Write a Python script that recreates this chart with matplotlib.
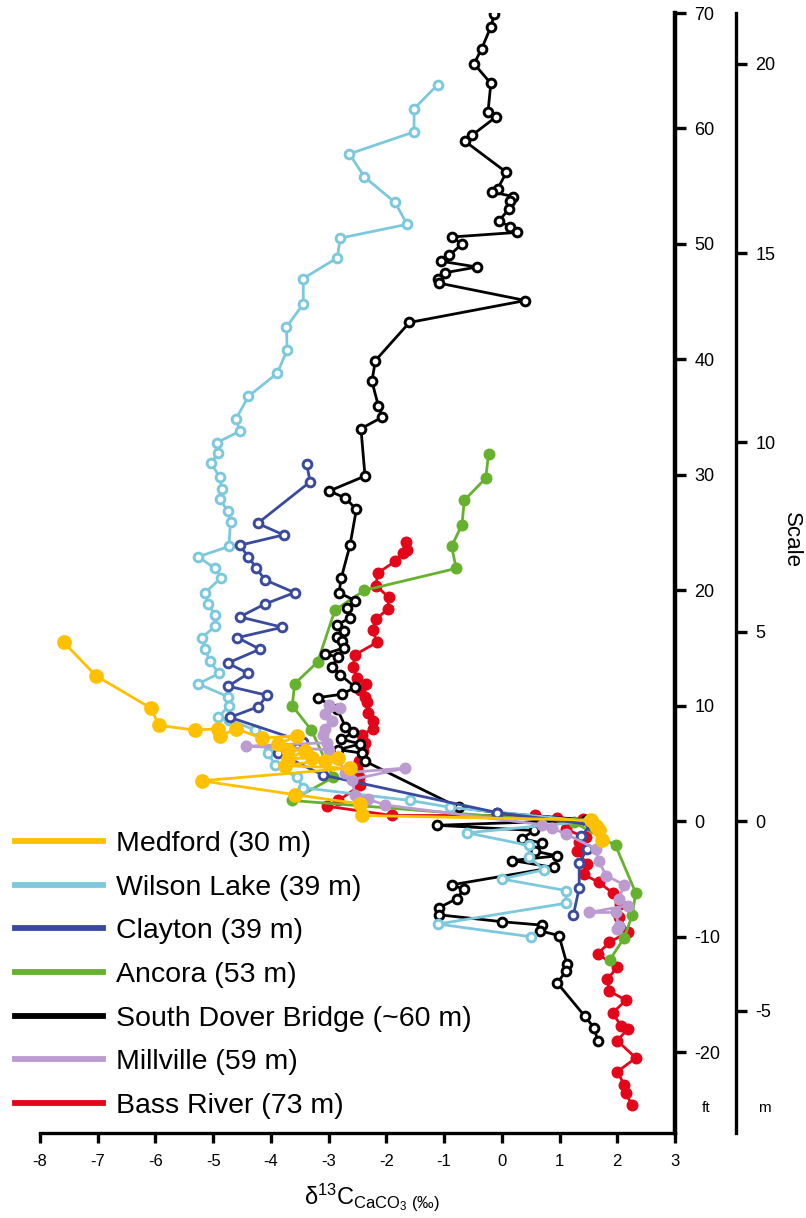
import matplotlib
matplotlib.use('Agg')
import matplotlib.pyplot as plt
from matplotlib.lines import Line2D

plt.rcParams['font.family'] = ['Liberation Sans', 'DejaVu Sans']
plt.rcParams['mathtext.fontset'] = 'custom'
plt.rcParams['mathtext.rm'] = 'Liberation Sans'
plt.rcParams['mathtext.it'] = 'Liberation Sans'
plt.rcParams['mathtext.bf'] = 'Liberation Sans:bold'

# ---------------- data (delta13C in permil, depth relative in ft) ----------------
medford_x = [-7.59, -7.03, -6.08, -5.94, -5.32, -4.91, -4.88, -4.60, -4.16, -3.55, -3.87, -3.70, -3.41,
             -3.70, -3.29, -3.06, -2.83, -3.76, -2.63, -5.20, -3.58, -2.45, -2.43, 1.55, 1.63, 1.68, 1.74]
medford_ft = [15.5, 12.6, 9.8, 8.3, 7.9, 8.0, 7.4, 8.0, 7.2, 7.4, 6.7, 6.2, 6.1,
              5.4, 5.5, 5.2, 5.5, 4.8, 4.6, 3.5, 2.3, 1.5, 0.5, 0.1, -0.4, -0.8, -1.6]

wilson_x = [-1.11, -1.52, -1.52, -2.64, -2.38, -1.85, -1.64, -2.80, -2.85, -3.44, -3.44, -3.73, -3.72,
            -3.89, -4.39, -4.61, -4.53, -4.93, -4.92, -5.03, -4.89, -4.85, -4.89, -4.75, -4.70, -4.73,
            -5.26, -4.97, -4.86, -5.14, -5.09, -4.97, -4.96, -5.20, -5.14, -5.06, -4.90, -5.26, -4.75,
            -4.73, -4.91, -4.73, -4.27, -4.05, -3.93, -3.55, -3.44, -1.59, -0.89, 1.50, -0.60, 0.47,
            0.47, 0.73, 0.00, 1.11, 1.11, -1.11, 0.50]
wilson_ft = [63.8, 61.7, 59.7, 57.8, 55.8, 53.6, 51.7, 50.5, 48.8, 47.0, 44.8, 42.8, 40.8,
             38.8, 36.8, 34.8, 33.8, 32.8, 31.9, 31.0, 29.8, 28.8, 27.9, 26.9, 25.9, 23.8,
             22.9, 21.9, 21.1, 19.8, 18.8, 17.9, 16.9, 15.9, 14.9, 13.9, 12.8, 11.9, 10.8,
             10.0, 9.0, 8.8, 7.9, 5.9, 4.9, 3.8, 2.9, 1.8, 1.2, 0.0, -1.0, -2.1,
             -3.1, -4.2, -5.0, -6.0, -7.1, -8.9, -10.0]

clayton_x = [-3.38, -3.32, -4.23, -3.78, -4.54, -4.39, -4.25, -4.10, -3.59, -4.11, -4.54, -3.80, -4.58,
             -4.19, -4.75, -4.39, -4.74, -4.06, -4.23, -4.71, -3.45, -3.87, -3.10, -0.08, 1.55, 1.37,
             1.48, 1.34, 1.34, 1.24]
clayton_ft = [30.9, 29.4, 25.8, 24.8, 23.9, 22.9, 21.9, 20.9, 19.8, 18.8, 17.7, 16.8, 15.9,
              14.9, 13.7, 12.8, 11.7, 10.9, 9.9, 9.0, 6.9, 5.9, 4.0, 0.75, -0.3, -1.3,
              -2.4, -3.6, -5.8, -8.1]

ancora_x = [-0.23, -0.28, -0.65, -0.69, -0.87, -0.79, -2.38, -2.89, -3.19, -3.59, -3.63, -3.30, -2.92,
            -3.64, 1.25, 1.97, 2.32, 2.26, 2.12, 1.87]
ancora_ft = [31.8, 29.7, 27.8, 25.7, 23.8, 21.9, 20.0, 18.3, 13.8, 11.9, 10.0, 7.9, 3.8,
             1.8, -0.1, -2.1, -6.2, -8.1, -10.1, -12.0]

sdb_x = [-0.13, -0.19, -0.35, -0.48, -0.19, -0.24, -0.10, -0.52, -0.64, 0.08, -0.07, -0.17, 0.20,
         0.15, 0.12, -0.05, 0.14, 0.27, -0.87, -0.69, -0.91, -1.05, -0.43, -0.99, -1.11, -1.08,
         0.41, -1.60, -2.19, -2.25, -2.14, -2.07, -2.44, -2.37, -2.99, -2.71, -2.52, -2.63, -2.78,
         -2.82, -2.54, -2.69, -2.63, -2.86, -2.73, -2.86, -2.77, -2.74, -3.06, -2.83, -2.95, -2.80,
         -2.54, -2.77, -3.19, -2.85, -2.71, -2.57, -2.78, -2.45, -2.83, -2.42, -2.37, -0.75, -0.08,
         1.45, -1.12, 0.56, 0.35, 0.70, 0.58, 0.96, 0.18, 0.90, -0.86, -0.66, -0.78, -1.09, -1.09,
         0.00, 0.70, 0.67, 0.99, 1.13, 1.11, 0.96, 1.44, 1.60, 1.66]
sdb_ft = [69.9, 68.8, 66.9, 65.6, 63.9, 61.4, 61.0, 59.4, 58.9, 56.2, 54.8, 54.5, 54.1,
          53.7, 53.0, 52.0, 51.5, 51.0, 50.6, 50.0, 49.0, 48.5, 48.0, 47.5, 47.0, 46.6,
          45.1, 43.2, 39.9, 38.1, 36.0, 35.0, 34.0, 29.9, 28.6, 28.0, 27.0, 23.9, 21.1,
          19.8, 19.1, 18.5, 17.6, 17.0, 16.5, 16.0, 15.6, 15.0, 14.5, 14.2, 13.4, 12.7,
          11.6, 11.0, 10.7, 9.7, 8.2, 7.7, 7.1, 6.7, 6.2, 5.9, 5.2, 1.2, 0.75,
          0.1, -0.35, -0.8, -1.5, -1.9, -2.6, -3.0, -3.4, -4.0, -5.5, -5.9, -6.7, -7.5, -8.1,
          -8.7, -9.0, -9.5, -9.9, -12.4, -13.0, -14.0, -16.9, -17.9, -19.0]

millville_x = [-3.00, -2.80, -3.06, -2.95, -3.06, -3.09, -3.03, -4.43, -3.00, -2.83, -2.71, -1.68, -2.60,
               -2.54, -2.31, -2.02, 0.70, 0.87, 1.11, 1.63, 1.68, 1.80, 2.12, 2.03, 2.18, 1.51, 1.97,
               2.03, 2.00]
millville_ft = [10.1, 9.8, 9.3, 8.7, 8.0, 7.5, 6.8, 6.5, 6.2, 5.4, 4.2, 4.6, 3.6,
                2.3, 1.9, 1.4, -0.3, -0.6, -1.1, -2.4, -3.4, -4.7, -5.5, -6.7, -7.3, -7.9, -7.9,
                -9.1, -9.3]

bass_x = [-1.66, -1.65, -1.72, -1.85, -2.15, -2.18, -1.96, -1.97, -2.18, -2.24, -2.16, -2.55, -2.57,
          -2.51, -2.35, -2.46, -2.37, -2.34, -2.31, -2.24, -2.24, -2.42, -2.37, -2.40, -2.48, -2.51,
          -2.48, -2.45, -2.83, -3.03, -1.90, 0.58, 0.96, 1.40, 1.11, 1.45, 1.34, 1.30, 1.48, 1.42,
          1.68, 1.92, 2.05, 2.03, 2.18, 1.86, 1.66, 2.00, 1.83, 1.86, 2.15, 1.92, 2.06, 2.18, 2.00,
          2.32, 2.00, 2.12, 2.15, 2.25]
bass_ft = [24.2, 23.5, 23.2, 22.5, 21.5, 20.4, 19.4, 18.4, 17.5, 16.6, 15.5, 14.4, 13.4,
           12.4, 11.9, 11.4, 10.8, 10.3, 9.4, 8.7, 8.0, 7.5, 6.8, 6.1, 5.2, 4.5,
           3.8, 3.1, 1.8, 1.3, 0.5, 0.5, 0.3, 0.2, -0.7, -1.4, -1.8, -2.6, -3.7, -4.6,
           -5.3, -6.2, -7.2, -8.3, -9.6, -10.5, -11.5, -12.6, -13.7, -14.7, -15.5, -16.6, -17.7, -18.0, -19.0,
           -20.5, -21.7, -22.8, -23.5, -24.6]

labels = ['Medford (30 m)', 'Wilson Lake (39 m)', 'Clayton (39 m)', 'Ancora (53 m)',
          'South Dover Bridge (~60 m)', 'Millville (59 m)', 'Bass River (73 m)']
colors = ['#FFC000', '#7CC9DE', '#3A4A9E', '#66B22E', '#000000', '#BC9CD0', '#E3061A']

ft_ticks = [-20, -10, 0, 10, 20, 30, 40, 50, 60, 70]
m_ticks = [-5, 0, 5, 10, 15, 20]
x_ticks = list(range(-8, 4))

# ---------------- figure ----------------
W, H = 806, 1218
fig = plt.figure(figsize=(W / 100, H / 100), dpi=100)
ax_l, ax_r, ax_b, ax_t = 40, 675, 1133, 13
ax = fig.add_axes([ax_l / W, 1 - ax_b / H, (ax_r - ax_l) / W, (ax_b - ax_t) / H])
ax.set_xlim(-8, 3)
ax.set_ylim(-27, 70)

def series(x, y, color, filled, ms, z, mew=1.6):
    ax.plot(x, y, '-', color=color, lw=2.0, zorder=z, solid_joinstyle='round')
    ax.plot(x, y, 'o', ms=ms, mfc=(color if filled else 'white'), mec=color,
            mew=mew, zorder=z + 0.5, linestyle='none')

series(bass_x, bass_ft, colors[6], True, 7.0, 2)
series(ancora_x, ancora_ft, colors[3], True, 7.0, 3)
series(sdb_x, sdb_ft, colors[4], False, 6.3, 4, mew=2.1)
series(wilson_x, wilson_ft, colors[1], False, 6.3, 5, mew=2.1)
series(clayton_x, clayton_ft, colors[2], False, 6.3, 6, mew=2.1)
series(millville_x, millville_ft, colors[5], True, 7.0, 7)
series(medford_x, medford_ft, colors[0], True, 9.0, 8)

for s in ['left', 'top']:
    ax.spines[s].set_visible(False)
ax.spines['right'].set_linewidth(3.2)
ax.spines['bottom'].set_linewidth(2.4)
ax.spines['right'].set_capstyle('projecting')
ax.yaxis.tick_right()
ax.set_yticks(ft_ticks)
ax.set_xticks(x_ticks)
ax.tick_params(axis='y', direction='out', length=8, width=2.4, labelsize=13, pad=6)
ax.tick_params(axis='x', direction='out', length=7, width=2.4, labelsize=12, pad=8)
ax.set_xticklabels([str(v) for v in x_ticks])
ax.set_yticklabels([str(v) for v in ft_ticks])

FT_PER_M = 3.2808
sec = ax.secondary_yaxis(1 + (736 - ax_r) / (ax_r - ax_l),
                         functions=(lambda f: f / FT_PER_M, lambda m: m * FT_PER_M))
sec.set_yticks(m_ticks)
sec.set_yticklabels([str(v) for v in m_ticks])
sec.spines['right'].set_linewidth(2.4)
sec.tick_params(axis='y', direction='out', length=8, width=2.4, labelsize=13, pad=6)

# legend
handles = [Line2D([0], [0], color=c, lw=4.2) for c in colors]
leg = ax.legend(handles, labels, loc='lower left', bbox_to_anchor=(15 / W, 1 - 1119 / H),
                bbox_transform=fig.transFigure, frameon=False, fontsize=20.5,
                handlelength=3.1, handletextpad=0.45, labelspacing=0.62, borderpad=0,
                borderaxespad=0)
leg.set_zorder(20)

fig.text(706 / W, 1 - 1108 / H, 'ft', ha='center', va='center', fontsize=11)
fig.text(764 / W, 1 - 1108 / H, 'm', ha='center', va='center', fontsize=11)
fig.text(791 / W, 1 - 540 / H, 'Scale', ha='center', va='center', rotation=270, fontsize=16)
fig.text(372 / W, 1 - 1197 / H, 'δ$^{13}$C$_{\\mathrm{CaCO_3}\\ (‰)}$',
         ha='center', va='center', fontsize=17)

fig.savefig('out.png', dpi=100)
